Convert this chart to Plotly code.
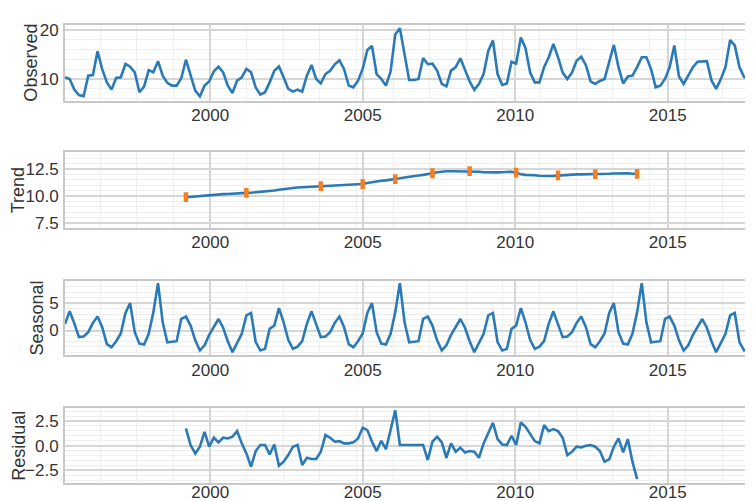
import plotly.graph_objects as go
from plotly.subplots import make_subplots

# ---- time index ----
X0 = 1995.24
STEP = 0.1525
TREND_START = 26

observed = [
    10.34, 10.0, 7.84, 6.75, 6.5, 10.68, 10.8, 15.6, 12.0, 9.3,
    7.84, 10.2, 10.34, 13.04, 12.5, 11.35, 7.3, 8.45, 11.8, 11.35,
    13.6, 10.68, 9.2, 8.65, 8.65, 10.13, 13.9, 10.68, 7.63, 6.5,
    8.65, 9.5, 11.55, 12.5, 11.35, 8.65, 7.16, 9.66, 10.34, 12.03,
    11.35, 8.3, 6.82, 7.3, 9.3, 11.66, 12.54, 10.34, 7.97, 7.43,
    7.84, 7.43, 10.68, 12.84, 10.0, 9.1, 11.0, 11.66, 12.97, 13.8,
    12.0, 8.65, 8.3, 9.66, 12.03, 15.9, 16.7, 11.0, 10.0, 8.65,
    11.5, 19.0, 20.3, 15.0, 9.8, 9.8, 10.0, 14.25, 13.0, 13.1,
    11.7, 9.0, 8.5, 11.7, 12.4, 14.2, 12.0, 9.5, 7.8, 9.0,
    11.0, 15.7, 17.8, 11.0, 8.8, 9.1, 13.5, 13.1, 18.4, 16.3,
    11.3, 9.3, 9.3, 12.4, 14.4, 17.1, 14.4, 11.3, 10.0, 11.3,
    13.7, 14.5, 12.8, 9.5, 9.0, 9.6, 10.0, 13.4, 16.9, 12.4,
    9.1, 10.5, 10.7, 12.4, 14.4, 14.4, 12.0, 8.3, 8.65, 10.0,
    12.4, 16.8, 10.5, 9.0, 10.7, 12.4, 13.5, 13.6, 13.6, 9.7,
    8.0, 10.0, 12.4, 17.9, 16.8, 12.4, 10.4, 10.0, 10.7, 11.2,
]

trend = [
    9.88, 9.92, 9.97, 10.02, 10.07, 10.12, 10.15, 10.16, 10.17, 10.18,
    10.19, 10.2, 10.24, 10.28, 10.3, 10.33, 10.36, 10.38, 10.42, 10.5,
    10.58, 10.65, 10.7, 10.74, 10.78, 10.8, 10.83, 10.86, 10.88, 10.9,
    10.94, 10.97, 11.0, 11.02, 11.04, 11.05, 11.06, 11.08, 11.1, 11.2,
    11.28, 11.35, 11.4, 11.44, 11.48, 11.55, 11.63, 11.71, 11.79, 11.84,
    11.9, 11.95, 12.0, 12.1, 12.2, 12.26, 12.28, 12.29, 12.29, 12.3,
    12.3, 12.29, 12.27, 12.24, 12.2, 12.18, 12.17, 12.18, 12.2, 12.22,
    12.24, 12.15, 12.0, 11.95, 11.95, 11.92, 11.87, 11.84, 11.85, 11.86,
    11.9, 11.93, 11.95, 11.97, 12.0, 12.0, 12.0, 12.0, 12.02, 12.03,
    12.05, 12.06, 12.08, 12.1, 12.1, 12.1, 12.06, 12.05,
]

trend_marker_idx = [26, 39, 55, 64, 71, 79, 87, 97, 106, 114, 123]

seasonal = [
    1.2, 3.5, 1.3, -1.2, -1.1, -0.3, 1.4, 2.55, 0.6, -2.5,
    -3.05, -1.95, -0.55, 3.2, 5.0, -0.3, -2.4, -2.55, -0.6, 3.35,
    8.65, 1.5, -2.15, -2.1, -1.95, 2.14, 2.55, 0.9, -1.8, -3.65,
    -2.7, -0.8, 0.73, 2.1, 0.5, -1.95, -3.95, -2.3, -0.6, 2.75,
    3.2, -2.1, -3.65, -3.35, 0.3, 0.9, 4.1, 1.5, -1.7, -3.35,
    -2.95, -1.95,
    1.2, 3.5, 1.3, -1.2, -1.1, -0.3, 1.4, 2.55, 0.6, -2.5,
    -3.05, -1.95, -0.55, 3.2, 5.0, -0.3, -2.4, -2.55, -0.6, 3.35,
    8.65, 1.5, -2.15, -2.1, -1.95, 2.14, 2.55, 0.9, -1.8, -3.65,
    -2.7, -0.8, 0.73, 2.1, 0.5, -1.95, -3.95, -2.3, -0.6, 2.75,
    3.2, -2.1, -3.65, -3.35, 0.3, 0.9, 4.1, 1.5, -1.7, -3.35,
    -2.95, -1.95,
    1.2, 3.5, 1.3, -1.2, -1.1, -0.3, 1.4, 2.55, 0.6, -2.5,
    -3.05, -1.95, -0.55, 3.2, 5.0, -0.3, -2.4, -2.55, -0.6, 3.35,
    8.65, 1.5, -2.15, -2.1, -1.95, 2.14, 2.55, 0.9, -1.8, -3.65,
    -2.7, -0.8, 0.73, 2.1, 0.5, -1.95, -3.95, -2.3, -0.6, 2.75,
    3.2, -2.1, -3.65, -3.35, 0.3, 0.9,
]

residual = [
    1.75, 0.07, -0.78, -0.1, 1.41, -0.1, 0.81, 0.34, 0.81, 0.74,
    0.91, 1.48, 0.24, -0.78, -2.13, -0.54, 0.07, 0.07, -0.88, 0.13,
    -2.03, -1.62, -0.95, -0.1, 0.07, -1.96, -1.22, -1.35, -1.35, -0.61,
    1.08, 0.81, 0.41, 0.47, 0.24, 0.24, 0.34, 0.74, 1.82, 1.58,
    0.41, -0.54, 0.5, -0.34, 1.6, 3.6, 0.07, 0.07, 0.07, 0.07,
    0.07, 0.07, -1.45, 0.41, 0.91, 0.34, -1.22, 0.24, -0.61, -0.2,
    -0.68, -0.54, -0.61, -1.22, 0.24, 1.3, 2.33, 0.67, 0.13, 0.07,
    1.01, 0.07, 2.36, 1.92, 1.24, 0.47, 0.24, 2.09, 1.48, 1.69,
    1.48, 0.81, -0.95, -0.61, -0.1, -0.17, 0.0, 0.07, -0.1, -0.54,
    -1.62, -1.38, -0.1, 0.74, -0.68, 0.67, -1.62, -3.38,
]

panel_titles = ["Observed", "Trend", "Seasonal", "Residual"]
y_ranges = [[5.6, 20.95], [7.04, 14.05], [-4.56, 9.12], [-3.78, 3.82]]
y_major = [10, 2.5, 5, 2.5]
y_minor = [2, 0.5, 1, 0.5]
y_fmt = ["d", ".1f", "d", ".1f"]
x_ticks = [2000, 2005, 2010, 2015]

# ---- styling ----
# the page places the figure slightly inset; pixel positions below are
# screen positions, converted to figure coordinates with these offsets
OFF_X, OFF_Y = 8, 4
W, H = 753 - OFF_X, 501 - OFF_Y
ML, MR, MT = 65 - OFF_X, 0, 21 - OFF_Y
BLUE = "#2a7ab8"
ORANGE = "#f57f20"
FONT = "Liberation Sans, Arial, sans-serif"
TICKFONT = "Liberation Sans Narrow, Liberation Sans, Arial, sans-serif"
TXT = "#333333"
# panel pixel extents on screen (top, bottom)
panel_px = [(21, 96.7), (148.3, 224), (276.7, 351.7), (404.3, 479.3)]
title_px_x = [30.8, 18.3, 37.5, 18.3]
MB = H - (panel_px[-1][1] - OFF_Y)

x = [X0 + STEP * i for i in range(len(observed))]
x_tr = x[TREND_START:TREND_START + len(trend)]
x_mark = [x[i] for i in trend_marker_idx]
y_mark = [trend[i - TREND_START] for i in trend_marker_idx]

fig = make_subplots(rows=4, cols=1)
line = dict(color=BLUE, width=2.6)
fig.add_trace(go.Scatter(x=x, y=observed, mode="lines", line=line), row=1, col=1)
fig.add_trace(go.Scatter(x=x_tr, y=trend, mode="lines", line=line), row=2, col=1)
fig.add_trace(go.Scatter(x=x_mark, y=y_mark, mode="markers",
                         marker=dict(symbol="line-ns", size=7,
                                     line=dict(color=ORANGE, width=4.5))),
              row=2, col=1)
fig.add_trace(go.Scatter(x=x, y=seasonal, mode="lines", line=line), row=3, col=1)
fig.add_trace(go.Scatter(x=x_tr, y=residual, mode="lines", line=line), row=4, col=1)

plot_h = H - MT - MB
plot_w = W - ML - MR
x_range = [X0, X0 + plot_w / 30.5]


def clamp(v):
    return max(0.0, min(1.0, v))


ann = []
for k in range(4):
    top, bot = panel_px[k][0] - OFF_Y, panel_px[k][1] - OFF_Y
    d0 = clamp((H - MB - bot) / plot_h)
    d1 = clamp((H - MB - top) / plot_h)
    fig.update_yaxes(
        row=k + 1, col=1, domain=[d0, d1], range=y_ranges[k],
        dtick=y_major[k], tick0=0, tickformat=y_fmt[k],
        showgrid=True, gridcolor="#d6d6d6", gridwidth=1.6,
        zeroline=False, showline=True, linecolor="#c9c9c9", linewidth=2,
        ticks="", ticklabelstandoff=1,
        tickfont=dict(family=TICKFONT, size=17, color=TXT),
        minor=dict(dtick=y_minor[k], tick0=0, showgrid=True,
                   gridcolor="#efefef", gridwidth=1),
    )
    fig.update_xaxes(
        row=k + 1, col=1, range=x_range,
        tickvals=x_ticks, ticktext=[str(v) for v in x_ticks],
        showgrid=True, gridcolor="#d6d6d6", gridwidth=1.6,
        zeroline=False, showline=True, mirror=True,
        linecolor="#c9c9c9", linewidth=2, ticks="",
        ticklabelstandoff=-2 if k < 3 else -7,
        tickfont=dict(family=TICKFONT, size=17, color=TXT),
        minor=dict(tick0=2000, dtick=1.2, showgrid=True,
                   gridcolor="#efefef", gridwidth=1),
    )
    ann.append(dict(
        text=panel_titles[k], textangle=-90, showarrow=False,
        xref="paper", yref="paper",
        x=(title_px_x[k] - OFF_X - ML) / plot_w,
        y=(H - MB - (top + bot) / 2) / plot_h,
        xanchor="center", yanchor="middle",
        font=dict(family=FONT, size=18, color=TXT),
    ))

fig.update_layout(
    width=W, height=H, showlegend=False,
    margin=dict(l=ML, r=MR, t=MT, b=MB),
    paper_bgcolor="white", plot_bgcolor="white",
    annotations=ann,
)

fig.write_html("out.html")
